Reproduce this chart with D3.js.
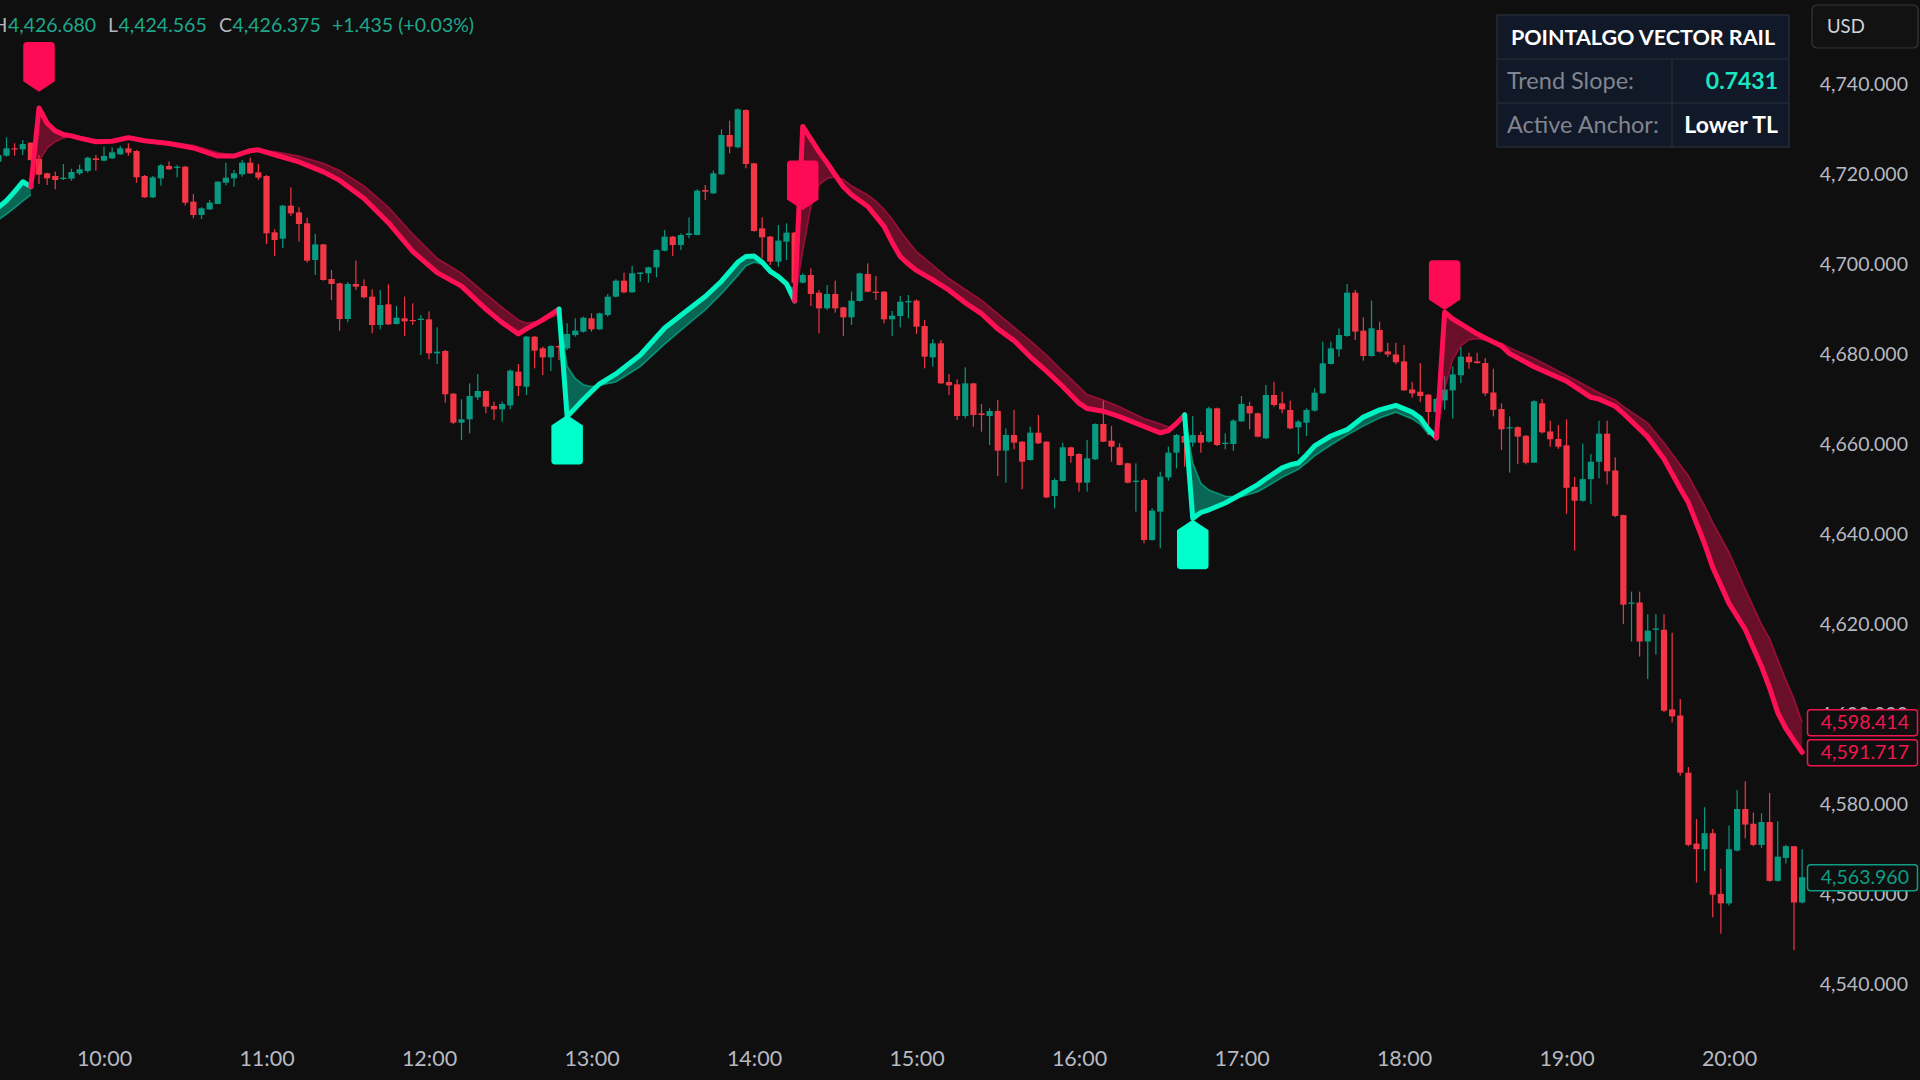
<!DOCTYPE html>
<html><head><meta charset="utf-8">
<script src="https://cdn.jsdelivr.net/npm/d3@7"></script>
<style>
html,body{margin:0;padding:0;background:#0f0f0f;overflow:hidden}
svg{display:block}
text{font-family:Lato,"Open Sans",sans-serif}
</style></head><body>
<svg id="c" width="1920" height="1080"></svg>
<script>
// ---------------- DATA ----------------
const firstBar = -13; // bar index of first candle (bar 0 = 10:00, 3-minute bars)
const opens = [4722.96,4724.30,4725.93,4725.71,4727.19,4723.56,4720.37,4719.78,4719.11,4719.19,4720.37,4720.89,4723.70,
4723.19,4723.70,4724.59,4725.93,4725.33,4719.78,4715.04,4719.26,4722.00,4721.63,4721.85,4714.07,4711.11,4712.37,4713.56,4718.30,4719.26,4720.15,4722.74,4720.59,
4719.78,4707.26,4705.85,4713.19,4711.70,4709.26,4701.11,4704.59,4696.89,4695.93,4688.00,4695.78,4695.33,4692.96,4686.67,4691.26,4686.89,4688.15,4687.78,4687.78,
4687.93,4680.37,4680.89,4671.41,4664.96,4665.70,4670.59,4672.00,4668.67,4667.93,4668.81,4676.30,4672.96,4684.07,4681.48,4679.48,4682.00,4681.48,4684.44,4685.19,
4688.15,4685.70,4688.89,4692.96,4696.52,4693.93,4698.00,4698.15,4699.48,4703.19,4706.30,4704.44,4706.67,4706.67,4716.67,4715.93,4720.15,4728.89,4726.15,4734.44,
4722.59,4708.15,4706.30,4700.74,4705.19,4707.19,4696.07,4697.78,4693.85,4690.37,4693.56,4690.59,4688.37,4692.00,4698.00,4694.07,4694.07,4687.93,4688.67,4691.70,
4692.07,4686.44,4679.48,4682.59,4674.00,4673.48,4666.44,4673.70,4667.04,4666.44,4667.56,4658.74,4662.22,4660.74,4656.67,4662.74,4660.74,4648.67,4652.00,4659.48,
4658.00,4651.63,4656.81,4664.67,4660.96,4659.48,4655.93,4651.78,4652.22,4638.89,4645.19,4652.81,4658.30,4662.00,4660.52,4662.22,4660.74,4668.15,4660.22,4660.22,
4665.26,4668.67,4667.04,4661.48,4671.11,4669.26,4667.78,4663.93,4664.96,4667.63,4671.48,4678.00,4681.26,4684.22,4693.85,4685.41,4679.78,4685.56,4680.80,4680.12,
4678.58,4672.33,4671.85,4671.18,4667.33,4669.93,4672.14,4675.51,4679.64,4678.58,4678.20,4671.66,4668.00,4663.67,4663.96,4662.04,4656.07,4669.25,4663.00,4661.36,
4659.92,4650.69,4647.61,4652.42,4656.27,4662.52,4654.34,4644.43,4624.71,4625.00,4616.34,4618.94,4618.94,4601.24,4599.89,4587.19,4571.42,4570.17,4573.73,4560.26,
4558.14,4569.88,4579.11,4575.84,4571.13,4576.23,4563.14,4568.24,4570.84,4558.33];
const highs = [4724.96,4728.37,4727.04,4727.78,4727.19,4724.45,4720.52,4720.74,4722.45,4721.41,4722.30,4724.08,4724.45,
4726.30,4726.15,4726.45,4727.04,4725.56,4720.00,4719.78,4722.45,4723.04,4722.22,4722.00,4715.78,4712.82,4714.44,4718.60,4722.74,4721.11,4723.33,4723.85,4722.45,
4720.00,4707.93,4713.33,4717.26,4712.82,4710.52,4706.89,4704.70,4698.89,4696.07,4696.22,4700.96,4696.81,4694.59,4694.44,4695.70,4690.89,4692.96,4691.48,4688.89,
4689.70,4686.15,4681.11,4671.50,4670.15,4673.70,4675.78,4672.10,4669.63,4669.63,4676.81,4678.00,4684.22,4684.22,4681.85,4682.15,4682.15,4687.04,4688.15,4688.52,
4689.26,4689.41,4693.56,4696.81,4698.30,4699.78,4698.44,4699.63,4703.48,4707.78,4706.44,4707.04,4710.59,4716.81,4717.78,4720.96,4730.15,4732.07,4734.81,4734.59,
4722.74,4710.59,4706.44,4708.89,4709.26,4707.33,4698.15,4699.26,4694.44,4695.56,4696.52,4690.74,4694.07,4698.30,4700.37,4697.56,4694.22,4689.78,4693.11,4693.33,
4692.37,4687.78,4683.48,4683.33,4675.78,4674.59,4677.26,4673.80,4669.11,4668.15,4670.00,4663.70,4667.78,4660.85,4664.07,4666.67,4660.85,4652.59,4660.52,4659.63,
4658.15,4661.11,4664.81,4669.85,4664.22,4660.37,4656.07,4655.93,4652.59,4645.93,4654.07,4659.63,4662.44,4666.67,4666.44,4662.96,4668.52,4668.30,4662.59,4665.70,
4670.89,4669.63,4667.19,4673.33,4674.07,4671.85,4669.85,4665.56,4668.15,4672.59,4682.96,4682.96,4685.93,4695.78,4694.44,4688.37,4692.07,4687.41,4682.72,4682.72,
4682.24,4674.06,4678.20,4671.30,4670.50,4675.31,4677.43,4681.76,4680.51,4680.51,4679.35,4676.95,4669.25,4666.37,4664.15,4662.23,4669.93,4670.22,4665.40,4664.44,
4665.69,4652.90,4660.31,4658.00,4665.40,4665.40,4657.23,4644.50,4627.41,4627.41,4622.40,4622.40,4622.40,4618.27,4603.55,4588.44,4576.90,4579.50,4574.69,4565.84,
4575.46,4583.35,4585.27,4578.34,4578.15,4582.67,4576.42,4571.13,4570.90,4570.17];
const lows = [4722.45,4724.08,4724.30,4724.45,4723.19,4718.00,4717.78,4716.82,4718.89,4718.74,4720.00,4720.52,4720.96,
4723.04,4723.56,4724.45,4724.30,4718.30,4714.90,4714.90,4717.63,4721.20,4719.48,4713.26,4710.37,4710.22,4712.22,4713.50,4717.70,4717.41,4719.63,4720.22,4718.89,
4704.67,4702.00,4703.78,4710.89,4705.19,4700.52,4697.78,4696.52,4692.22,4685.41,4687.26,4694.44,4692.59,4684.81,4685.70,4686.67,4686.80,4684.22,4686.67,4680.00,
4679.04,4678.00,4669.41,4664.67,4661.11,4662.59,4670.00,4667.04,4665.56,4665.19,4667.93,4670.89,4671.11,4677.04,4675.56,4676.44,4678.89,4681.11,4684.07,4684.96,
4685.19,4685.56,4688.52,4692.81,4693.70,4693.85,4696.30,4696.07,4697.26,4703.04,4702.00,4703.33,4705.93,4706.60,4714.44,4715.78,4720.00,4724.81,4725.93,4721.48,
4707.41,4701.48,4700.00,4699.63,4701.11,4693.00,4695.93,4690.89,4684.81,4690.00,4689.41,4684.22,4686.67,4691.85,4693.93,4692.22,4687.04,4684.22,4686.15,4688.15,
4684.67,4677.04,4677.41,4673.56,4671.11,4665.56,4665.93,4664.07,4662.96,4660.00,4653.11,4651.63,4659.04,4650.15,4656.55,4660.22,4648.15,4645.93,4651.85,4656.07,
4649.63,4649.63,4656.67,4660.65,4656.30,4655.45,4651.48,4645.19,4638.15,4638.74,4637.04,4652.07,4654.81,4655.19,4659.63,4658.30,4660.52,4659.78,4659.04,4658.74,
4665.11,4663.48,4661.70,4661.33,4668.52,4667.04,4663.48,4658.00,4662.00,4667.41,4671.40,4677.90,4679.63,4684.07,4683.33,4678.74,4679.63,4680.52,4679.55,4677.91,
4672.05,4670.50,4669.54,4662.23,4661.56,4667.81,4665.89,4673.77,4676.95,4678.10,4670.89,4666.37,4658.86,4653.86,4655.79,4655.70,4656.00,4662.52,4659.63,4659.15,
4644.72,4636.54,4647.42,4646.84,4652.61,4651.26,4643.95,4620.19,4616.34,4612.98,4607.97,4613.46,4600.66,4598.35,4586.52,4570.84,4562.76,4565.36,4555.07,4551.41,
4557.66,4569.69,4572.57,4570.84,4570.45,4562.95,4562.95,4566.99,4547.75,4558.14];
const closes = [4724.45,4725.93,4725.71,4726.89,4723.33,4720.08,4719.26,4718.89,4719.41,4720.67,4721.26,4723.85,4723.33,
4724.22,4725.04,4725.93,4724.96,4719.48,4715.04,4719.48,4722.15,4721.26,4721.85,4713.85,4711.11,4712.59,4713.85,4718.52,4719.41,4720.37,4722.74,4720.37,4719.41,
4707.04,4705.56,4713.19,4711.48,4709.11,4700.96,4704.59,4696.67,4695.78,4688.00,4695.78,4695.19,4692.81,4686.67,4691.11,4686.81,4688.30,4687.48,4687.56,4688.07,
4680.37,4680.74,4671.26,4664.96,4665.70,4670.89,4672.00,4668.52,4667.93,4669.11,4676.52,4673.11,4684.07,4680.96,4679.48,4682.00,4681.70,4684.67,4685.41,4688.30,
4685.70,4689.26,4692.96,4696.52,4693.93,4698.15,4698.30,4699.48,4703.33,4706.30,4704.44,4706.67,4707.04,4716.52,4716.30,4720.37,4728.89,4726.30,4734.59,4722.45,
4707.56,4706.15,4700.74,4705.41,4707.19,4696.07,4697.78,4693.56,4690.37,4693.56,4690.37,4688.37,4692.07,4698.15,4694.07,4693.78,4687.93,4688.74,4691.85,4692.00,
4686.30,4679.63,4682.59,4673.70,4673.26,4666.44,4673.70,4666.67,4666.67,4667.56,4658.74,4662.22,4660.52,4656.30,4662.74,4660.37,4648.37,4652.22,4659.48,4657.56,
4651.63,4657.04,4664.67,4660.74,4659.63,4655.56,4651.63,4652.07,4638.89,4645.41,4652.96,4658.30,4662.22,4660.52,4662.22,4660.52,4668.15,4660.00,4660.52,4665.41,
4669.11,4667.04,4661.85,4671.11,4668.89,4667.93,4663.70,4665.19,4667.78,4671.63,4678.15,4681.48,4684.44,4693.85,4685.19,4679.78,4685.93,4680.74,4680.12,4678.39,
4672.14,4671.47,4670.89,4667.33,4670.22,4672.33,4675.70,4679.64,4678.39,4678.20,4671.47,4667.81,4663.48,4663.96,4661.85,4656.07,4669.73,4662.81,4661.27,4659.63,
4650.49,4647.61,4652.42,4656.27,4662.52,4654.15,4644.24,4624.52,4625.00,4616.34,4618.75,4619.23,4600.95,4599.70,4587.19,4571.13,4570.17,4573.73,4560.07,4558.14,
4570.17,4579.11,4575.65,4571.13,4576.23,4563.14,4568.53,4570.84,4558.33,4563.96];

const timeTickBars = [0,20,40,60,80,100,120,140,160,180,200];
const timeTickLabels = ["10:00","11:00","12:00","13:00","14:00","15:00","16:00","17:00","18:00","19:00","20:00"];
const priceTicks = [4540,4560,4580,4600,4620,4640,4660,4680,4700,4720,4740];

// Vector rail vertices: bar, rail value, lagging rail value; segments alternate lower (teal) / upper (red)
const railBar = [-13,-12,-11,-10,-9,
 -9,-8,-7,-6,-5,-4,-3,-1,1,3,5,8,11,14,16,18,19,21,24,27,29,32,35,38,41,44,47,49,51,52,54,56,
 56,57,58,59,60,61,63,66,69,72,74,76,78,79,80,81,82,83,84,85,
 85,86,87,88,89,90,91,92,94,95,96,97,98,99,100,102,104,106,108,110,112,114,116,118,120,121,123,125,128,130,131,132,133,
 133,134,135,136,138,140,142,143,145,146,147,148,149,151,153,155,157,159,161,162,163,164,
 164,165,166,167,168,169,170,172,173,176,180,183,184,186,187,190,192,194,195,197,198,200,202,204,205,206,207,208,209];
const railMain = [4712.8,4714.3,4716.3,4718.5,4717.4,
 4717.4,4734.9,4731.5,4729.8,4729.0,4728.7,4728.2,4727.4,4727.5,4728.3,4727.6,4727.0,4726.0,4724.2,4724.2,4725.4,4725.6,4724.5,4722.9,4720.7,4718.8,4714.8,4709.4,4703.0,4698.3,4695.3,4690.2,4687.2,4684.7,4685.8,4687.8,4690.2,
 4690.2,4666.3,4668.2,4670.1,4671.9,4673.6,4675.8,4680.0,4686.0,4690.2,4693.0,4696.4,4700.6,4701.9,4702.0,4700.6,4698.6,4697.4,4695.8,4692.0,
 4692.0,4730.8,4728.0,4725.2,4722.7,4720.0,4717.4,4715.6,4713.0,4710.8,4708.6,4705.0,4701.9,4700.2,4698.8,4696.7,4694.4,4691.6,4689.2,4685.8,4683.2,4679.6,4676.4,4673.0,4669.3,4668.1,4667.5,4666.3,4664.1,4662.7,4663.2,4664.8,4666.7,
 4666.7,4643.7,4645.0,4645.6,4647.1,4649.1,4651.2,4652.5,4654.9,4655.6,4656.0,4657.8,4659.8,4662.0,4663.4,4666.2,4667.8,4668.8,4667.3,4666.0,4663.5,4661.6,
 4661.6,4689.5,4688.0,4686.9,4685.8,4684.7,4683.8,4682.0,4680.3,4677.4,4674.2,4670.6,4670.2,4668.6,4667.0,4661.8,4656.9,4650.3,4647.2,4638.0,4632.8,4624.8,4619.0,4610.8,4606.0,4600.5,4597.0,4594.3,4591.717];
const railLag = [4710.0,4711.3,4712.7,4714.2,4715.6,
 4717.4,4723.0,4726.0,4727.4,4728.2,4728.6,4728.6,4727.8,4727.4,4727.9,4727.9,4727.3,4726.6,4725.0,4724.4,4725.0,4725.4,4725.2,4724.2,4722.6,4721.0,4717.6,4712.9,4706.9,4701.5,4698.2,4693.6,4690.6,4687.8,4687.1,4687.6,4689.0,
 4690.2,4677.5,4674.8,4673.4,4673.0,4673.3,4674.0,4677.4,4682.4,4687.0,4690.0,4693.6,4697.6,4699.8,4700.6,4700.2,4699.0,4697.6,4695.8,4694.5,
 4692.0,4703.0,4713.0,4717.8,4719.2,4719.6,4719.0,4717.6,4715.6,4714.2,4712.4,4710.2,4707.6,4705.2,4703.0,4700.0,4697.0,4694.6,4692.2,4689.2,4686.2,4683.2,4680.0,4676.4,4673.0,4671.2,4670.0,4668.5,4665.9,4664.7,4664.0,4664.3,4666.3,
 4666.7,4656.0,4651.5,4650.0,4648.6,4648.5,4649.6,4650.6,4652.8,4653.7,4654.6,4656.0,4657.6,4660.0,4662.2,4664.2,4666.0,4667.3,4665.8,4664.6,4662.4,4662.0,
 4661.6,4672.5,4679.0,4682.0,4683.4,4683.6,4683.3,4682.6,4681.6,4679.3,4675.5,4672.6,4671.6,4670.0,4668.6,4664.9,4660.5,4655.6,4653.2,4646.5,4642.8,4636.2,4628.0,4620.2,4617.0,4612.3,4607.8,4603.6,4598.414];
const segLengths = [5, 32, 20, 33, 22, 29];
const segSides = ["L","U","L","U","L","U"];

// Signal labels: bar, side, price at the pointer tip
const signalBar = [-8, 57, 86, 134, 165];
const signalSide = ["U","L","U","L","U"];
const signalPrice = [4738.7, 4666.5, 4712.4, 4643.2, 4690.2];

// Last-value price tags
const tagPrices = [4598.414, 4591.717, 4563.960];
const tagKinds = ["U","U","C"];

// Header legend
const legendKeys = ["H","L","C"];
const legendValues = ["4,426.680","4,424.565","4,426.375"];
const legendChange = "+1.435 (+0.03%)";

// Info table
const tableTitle = "POINTALGO VECTOR RAIL";
const tableLabels = ["Trend Slope:","Active Anchor:"];
const tableValues = ["0.7431","Lower TL"];
const currency = "USD";

// ---------------- DRAW ----------------
const W = 1920, H = 1080;
const svg = d3.select("#c");
const RED = "#ff1055", TEAL = "#00f5c4", UP = "#089981", DN = "#f23645";
svg.append("rect").attr("width",W).attr("height",H).attr("fill","#0f0f0f");

const x = d3.scaleLinear().domain([0,200]).range([104,1729]);
const y = d3.scaleLinear().domain([4540,4740]).range([985,85]);

// axes
const yAxis = d3.axisRight(y).tickValues(priceTicks).tickFormat(d3.format(",.3f")).tickSize(0).tickPadding(0);
const gy = svg.append("g").attr("transform","translate(1908,0)").call(yAxis);
gy.select(".domain").remove();
gy.selectAll("text").attr("text-anchor","end").attr("fill","#b6b9c1").style("font-size","19.5px").style("font-family","Lato").attr("dy","0.3em");

const xAxis = d3.axisBottom(x).tickValues(timeTickBars).tickFormat((d,i)=>timeTickLabels[i]).tickSize(0).tickPadding(0);
const gx = svg.append("g").attr("transform","translate(0,1051)").call(xAxis);
gx.select(".domain").remove();
gx.selectAll("text").attr("fill","#b6b9c1").style("font-size","21.5px").style("font-family","Lato");

// candles
const candles = opens.map((o,i)=>({bar:firstBar+i,o,h:highs[i],l:lows[i],c:closes[i]}));
const gc = svg.append("g");
gc.selectAll("rect.w").data(candles).join("rect").attr("class","w")
  .attr("x",d=>x(d.bar)-0.6).attr("width",1.2)
  .attr("y",d=>y(d.h)).attr("height",d=>Math.max(1,y(d.l)-y(d.h)))
  .attr("fill",d=>d.c>=d.o?UP:DN);
gc.selectAll("rect.b").data(candles).join("rect").attr("class","b")
  .attr("x",d=>x(d.bar)-3.1).attr("width",6.2)
  .attr("y",d=>y(Math.max(d.o,d.c))).attr("height",d=>Math.max(1.2,Math.abs(y(d.o)-y(d.c))))
  .attr("fill",d=>d.c>=d.o?UP:DN);

// rails
const verts = railBar.map((b,i)=>({bar:b,v:railMain[i],lag:railLag[i]}));
const segs = [];
let start = 0;
segLengths.forEach((n,i)=>{ segs.push({side:segSides[i],pts:verts.slice(start,start+n)}); start += n; });
const area = d3.area().x(d=>x(d.bar)).y0(d=>y(d.v)).y1(d=>y(d.lag));
const lineMain = d3.line().x(d=>x(d.bar)).y(d=>y(d.v));
const lineLag = d3.line().x(d=>x(d.bar)).y(d=>y(d.lag));
const gr = svg.append("g");
segs.forEach(s=>{
  const col = s.side==="U"?RED:TEAL;
  gr.append("path").attr("d",area(s.pts)).attr("fill",col).attr("fill-opacity",0.38);
  gr.append("path").attr("d",lineLag(s.pts)).attr("fill","none").attr("stroke",col).attr("stroke-opacity",0.45).attr("stroke-width",1.6);
});
segs.forEach(s=>{
  const col = s.side==="U"?RED:TEAL;
  gr.append("path").attr("d",lineMain(s.pts)).attr("fill","none").attr("stroke",col)
    .attr("stroke-width",5).attr("stroke-linejoin","round").attr("stroke-linecap","round");
});

// signal labels
const gs = svg.append("g");
signalBar.forEach((b,i)=>{
  const cx = x(b), ty = y(signalPrice[i]), w=15, p=10, hgt=48, r=3;
  let d;
  if(signalSide[i]==="U"){
    const top = ty-hgt;
    d = `M${cx},${ty} L${cx-w},${ty-p} L${cx-w},${top+r} Q${cx-w},${top} ${cx-w+r},${top} L${cx+w-r},${top} Q${cx+w},${top} ${cx+w},${top+r} L${cx+w},${ty-p} Z`;
  } else {
    const bot = ty+hgt;
    d = `M${cx},${ty} L${cx+w},${ty+p} L${cx+w},${bot-r} Q${cx+w},${bot} ${cx+w-r},${bot} L${cx-w+r},${bot} Q${cx-w},${bot} ${cx-w},${bot-r} L${cx-w},${ty+p} Z`;
  }
  gs.append("path").attr("d",d).attr("fill",signalSide[i]==="U"?"#ff0a54":"#00ffcc")
    .attr("stroke",signalSide[i]==="U"?"#ff0a54":"#00ffcc").attr("stroke-width",1.5).attr("stroke-linejoin","round");
});

// price tags
const gt = svg.append("g");
tagPrices.forEach((p,i)=>{
  const col = tagKinds[i]==="U"?"#f0164f":"#0d9e83";
  const cy = y(p);
  gt.append("rect").attr("x",1807.5).attr("y",cy-12.5).attr("width",110).attr("height",26).attr("rx",3)
    .attr("fill","#0f0f0f").attr("stroke",col).attr("stroke-width",1.5);
  gt.append("text").attr("x",1909).attr("y",cy).attr("dy","0.36em").attr("text-anchor","end")
    .attr("fill",col).style("font-size","19.5px").text(d3.format(",.3f")(p));
});

// legend
const gl = svg.append("g").style("font-size","19.5px");
const keyX = [-7.5,108,219];
legendKeys.forEach((k,i)=>{
  const kt = gl.append("text").attr("x",keyX[i]).attr("y",32).attr("fill","#b2b5be").text(k);
  const kw = kt.node().getComputedTextLength();
  gl.append("text").attr("x",keyX[i]+kw+0.5).attr("y",32).attr("fill","#1ea88c").text(legendValues[i]);
});
gl.append("text").attr("x",332).attr("y",32).attr("fill","#1ea88c").text(legendChange);

// info table
const tb = svg.append("g");
const tx0=1497, ty0=15, tw=292, rh=44, cdiv=1672;
tb.append("rect").attr("x",tx0).attr("y",ty0).attr("width",tw).attr("height",rh*3).attr("fill","#111827").attr("stroke","#2a303c").attr("stroke-width",1.2);
tb.append("line").attr("x1",tx0).attr("x2",tx0+tw).attr("y1",ty0+rh).attr("y2",ty0+rh).attr("stroke","#2a303c").attr("stroke-width",1.2);
tb.append("line").attr("x1",tx0).attr("x2",tx0+tw).attr("y1",ty0+2*rh).attr("y2",ty0+2*rh).attr("stroke","#2a303c").attr("stroke-width",1.2);
tb.append("line").attr("x1",cdiv).attr("x2",cdiv).attr("y1",ty0+rh).attr("y2",ty0+3*rh).attr("stroke","#2a303c").attr("stroke-width",1.2);
tb.append("text").attr("x",tx0+tw/2).attr("y",ty0+rh/2).attr("dy","0.36em").attr("text-anchor","middle")
  .attr("fill","#ffffff").style("font-size","21.5px").style("font-weight","700").text(tableTitle);
const valCols = ["#19e6c1","#ffffff"];
tableLabels.forEach((l,i)=>{
  const cy = ty0+rh*(i+1)+rh/2;
  tb.append("text").attr("x",1507).attr("y",cy).attr("dy","0.36em").attr("fill","#80858f").style("font-size","23.5px").text(l);
  tb.append("text").attr("x",1778).attr("y",cy).attr("dy","0.36em").attr("text-anchor","end").attr("fill",valCols[i])
    .style("font-size","23px").style("font-weight","700").text(tableValues[i]);
});

// currency box
svg.append("rect").attr("x",1812).attr("y",5).attr("width",106).attr("height",43).attr("rx",5)
  .attr("fill","#121212").attr("stroke","#34373d").attr("stroke-width",1.2);
svg.append("text").attr("x",1827).attr("y",26.5).attr("dy","0.36em").attr("fill","#d1d4dc").style("font-size","18.5px").text(currency);
</script>
</body></html>
